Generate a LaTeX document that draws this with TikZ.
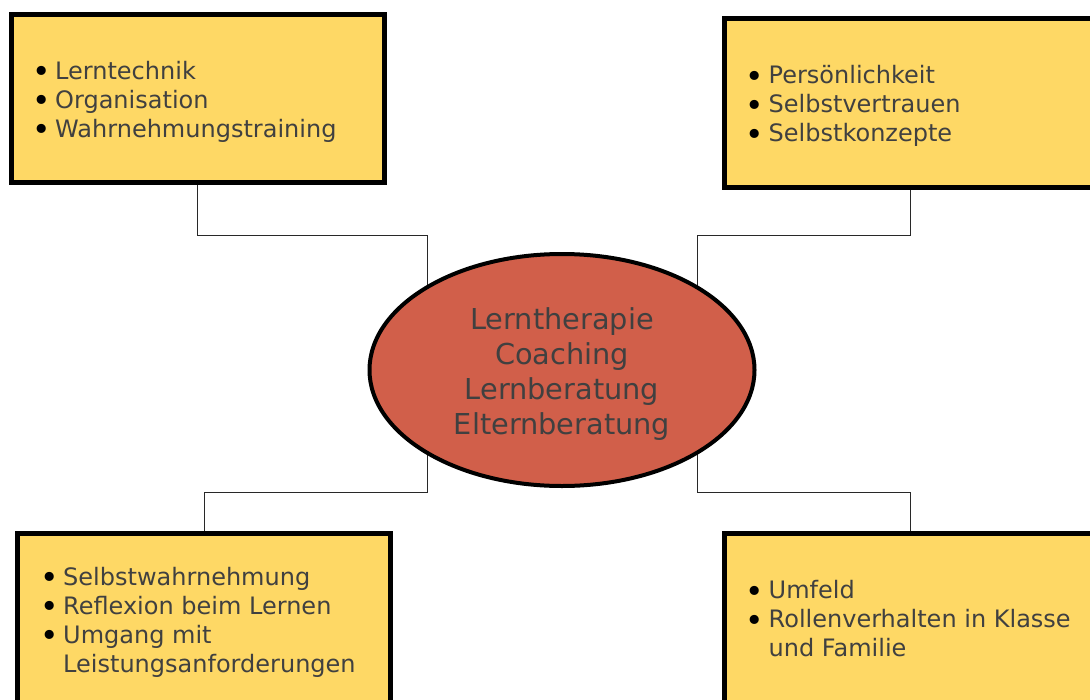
\documentclass[tikz,border=0pt]{standalone}
\usepackage{fontspec}
\setmainfont{DejaVu Sans}
\usetikzlibrary{shapes.geometric}
\usetikzlibrary{positioning,backgrounds}

\newcommand{\bul}{\makebox[21pt][l]{\hspace*{-2pt}\color{black}\raisebox{-3.5pt}{\scalebox{1.3}{\textbullet}}}}

\begin{document}
\begin{tikzpicture}[x=1pt,y=-1pt,
		box/.style={draw,line width=5pt,fill=boxfill,outer sep=0pt,inner sep=0pt},
		items/.style={align=left,inner sep=0pt,text=textgray,font=\fontsize{24}{29}\selectfont},
		link/.style={draw=linegray,line width=0.9pt}]
		    \definecolor{boxfill}{RGB}{254,216,101}
		    \definecolor{ellfill}{RGB}{209,95,74}
		    \definecolor{textgray}{RGB}{64,64,64}
		    \definecolor{linegray}{RGB}{40,40,40}
		    \useasboundingbox (0,0) rectangle (1090,699);
		    % four boxes
		    \node (lern) [box,minimum width=373pt,minimum height=168pt] at (197.5,98.5) {};
		    \node (person) [box,minimum width=371pt,minimum height=169pt] at (910,103) {};
		    \node (selbst) [box,minimum width=373pt,minimum height=171pt] at (204,619) {};
		    \node (umfeld) [box,minimum width=371pt,minimum height=171pt] at (910,619) {};
		    \node (lerntext) [items,right=23pt of lern.west,yshift=-3pt] {\bul Lerntechnik\\\bul Organisation\\\bul Wahrnehmungstraining};
		    \node (persontext) [items,right=23pt of person.west,yshift=-3pt] {\bul Persönlichkeit\\\bul Selbstvertrauen\\\bul Selbstkonzepte};
		    \node (selbsttext) [items,right=24.5pt of selbst.west,yshift=-3pt] {\bul Selbstwahrnehmung\\\bul Reflexion beim Lernen\\\bul Umgang mit\\\hspace*{21pt}Leistungsanforderungen};
		    \node (umfeldtext) [items,right=23pt of umfeld.west] {\bul Umfeld\\\bul Rollenverhalten in Klasse\\\hspace*{21pt}und Familie};
		    % centre
		    \node (therapie) [ellipse,draw,line width=4pt,fill=ellfill,minimum width=385pt,minimum height=232pt] at (562,370) {};
		    \node (therapietext) [align=center,text=textgray,font=\fontsize{28.8}{35}\selectfont,inner sep=0pt] at ([yshift=-4pt]therapie.center) {Lerntherapie\\Coaching\\Lernberatung\\Elternberatung};
		    \coordinate (lernknick) at (427,235);
		    \coordinate (personknick) at (697,235);
		    \coordinate (selbstknick) at (427,492);
		    \coordinate (umfeldknick) at (697,492);
		    \begin{scope}[on background layer]
		      \draw[link] (lern.south) |- (lernknick) -- (lernknick |- therapie.center);
		      \draw[link] (person.south) |- (personknick) -- (personknick |- therapie.center);
		      \draw[link] (selbst.north) |- (selbstknick) -- (selbstknick |- therapie.center);
		      \draw[link] (umfeld.north) |- (umfeldknick) -- (umfeldknick |- therapie.center);
		    \end{scope}
\end{tikzpicture}
\end{document}
